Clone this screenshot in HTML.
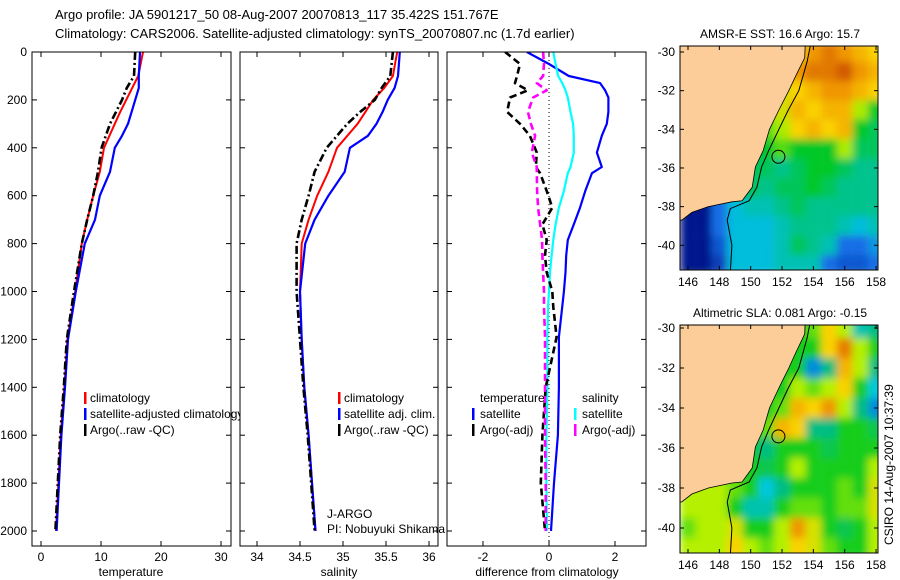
<!DOCTYPE html>
<html><head><meta charset="utf-8"><style>
html,body{margin:0;padding:0;background:#fff}
svg{display:block;font-family:"Liberation Sans",Arial,sans-serif;font-size:12px}
</style></head><body>
<svg id="fig" width="900" height="580" viewBox="0 0 900 580">
<defs>
<clipPath id="cp1"><rect x="32" y="52" width="199" height="494"/></clipPath>
<clipPath id="cp2"><rect x="240" y="52" width="198" height="494"/></clipPath>
<clipPath id="cp3"><rect x="447" y="52" width="199" height="494"/></clipPath>
<clipPath id="cm1"><rect x="680" y="46" width="198" height="224"/></clipPath>
<clipPath id="cm2"><rect x="680" y="325" width="198" height="228"/></clipPath>
<filter id="blur" x="-5%" y="-5%" width="110%" height="110%"><feGaussianBlur stdDeviation="4" edgeMode="duplicate"/></filter>
</defs>
<text x="55" y="19" font-size="13">Argo profile: JA 5901217_50 08-Aug-2007 20070813_117 35.422S 151.767E</text>
<text x="55" y="38" font-size="13">Climatology: CARS2006. Satellite-adjusted climatology: synTS_20070807.nc (1.7d earlier)</text>
<g id="g"></g>
</svg>
<script>
// ---------- data ----------
const depths = [0,100,150,200,250,300,350,400,500,600,700,800,1000,1200,1400,1600,1800,2000];
const tempClim = [17,16.2,15.2,14.2,13.2,12.3,11.4,10.5,9.8,8.7,7.7,6.8,5.7,4.4,3.9,3.3,2.9,2.5];
const tempSat  = [16.5,16.3,16.3,15.7,15.1,14.5,13.5,12.3,11.5,9.8,9,7.3,5.8,4.5,4,3.4,3,2.6];
const tempArgo = [15.7,15.5,14.3,13.5,12.5,11.5,10.8,10.1,9.5,8.7,7.7,6.8,5.5,4.3,3.8,3.2,2.8,2.4];
const salClim = [35.63,35.58,35.48,35.35,35.26,35.17,35.05,34.93,34.83,34.7,34.6,34.52,34.5,34.52,34.55,34.6,34.64,34.68];
const salSat  = [35.66,35.64,35.6,35.52,35.46,35.39,35.29,35.08,35.02,34.83,34.67,34.56,34.5,34.52,34.55,34.6,34.64,34.68];
const salArgo = [35.58,35.55,35.45,35.37,35.2,35.05,34.93,34.81,34.67,34.6,34.52,34.46,34.46,34.5,34.54,34.59,34.63,34.67];
const dDepths = [0,50,100,130,160,190,250,300,350,420,480,506,580,650,720,785,850,920,1000,1065,1190,1400,1600,1800,2000];
const dTempSat = [-0.67,0,0.6,1.55,1.7,1.8,1.8,1.75,1.6,1.45,1.6,1.3,1.1,0.94,0.75,0.57,0.52,0.5,0.45,0.4,0.3,0.3,0.27,0.15,0.06];
const dSalSat  = [0.13,0.2,0.28,0.4,0.5,0.57,0.65,0.73,0.75,0.75,0.65,0.57,0.45,0.3,0.2,0.13,0.08,0.03,0,-0.03,-0.05,-0.05,-0.08,-0.08,-0.06];
const dTempArgo = [-1.33,-0.88,-0.97,-1.03,-0.64,-1.18,-1.27,-0.88,-0.58,-0.37,-0.4,-0.27,-0.07,0.1,-0.2,-0.07,-0.12,-0.07,0.1,0.13,0.23,-0.1,-0.2,-0.25,-0.12];
const dSalArgo  = [-0.18,-0.15,-0.18,-0.37,-0.07,-0.48,-0.64,-0.55,-0.42,-0.52,-0.37,-0.37,-0.36,-0.33,-0.27,-0.21,-0.2,-0.18,-0.15,-0.15,-0.12,-0.12,-0.12,-0.1,-0.1];
const depthTicks = [0,200,400,600,800,1000,1200,1400,1600,1800,2000];
const tempTicks = [0,10,20,30];
const salTicks = [34,34.5,35,35.5,36];
const diffTicks = [-2,0,2];
const lonTicks = [146,148,150,152,154,156,158];
const latTicks = [-30,-32,-34,-36,-38,-40];
const gridLons = [146,147,148,149,150,151,152,153,154,155,156,157,158];
const gridLats = [-30,-31,-32,-33,-34,-35,-36,-37,-38,-39,-40,-41];
const sstGrid = [
[5,5,5,5,5,5,5,8,9,9.5,9,8.5,8],
[5,5,5,5,5,5,7.5,9,9.5,9.5,10,9,8.5],
[5,5,5,5,5,5,7.5,8,8.5,9,9,8.5,8],
[5,5,5,5,5,7,7.5,8.5,8,8.5,8.5,7,6],
[5,5,5,5,6,6.5,7,8,8.5,8,8.5,6,5.5],
[5,5,5,5,5.5,6,6.5,6,6,6,7,5.5,5.5],
[5,5,5,5,5.5,5.5,5,5.5,6,6,5.5,5,5],
[5,5,5,5,5.5,5,5.5,5.5,6,5.5,5,5,5],
[1,1,3,4,4.5,4.5,5,5.5,5,5,5,5,5],
[1,1,3,4,4,4,4.5,5,5,5,4.5,4,4.5],
[1,1,2.5,4,4,4,4.5,5.5,5,4.5,3,3,3.5],
[1,1,2,4,4,4,4.5,4.5,4.5,3,2.5,2.5,3]];
const slaGrid = [
[3,3,3,3,3,3,3,3,3.5,5,4,1.5,2],
[3,3,3,3,3,3,3,3,3,5,6.5,4,3],
[3,3,3,3,3,3,3,3,0.5,2,5.5,4,2],
[3,3,3,3,3,3,3,4,3.5,4,5,3,1],
[3,3,3,3,3,3,3.5,5.5,5,6,4,2,0.5],
[3,3,3,3,3,3.5,5.5,5,2,2,3,3,2.5],
[3,3,3,3,3,2,3,3,3,2.5,3,3,3],
[3,3,3,3,3,2.5,3,4,3,3,3,3,4],
[4,4,4,3.5,3,1,2,3,3,3,3.5,3,4.5],
[4,4,4,3,1.5,1.5,3,3.5,3.5,3,3.5,3.5,4.5],
[3.5,4,4,4.5,3,3,4,6,4.5,3,2.5,3,4],
[4,4,4,5,4,3.5,4,5,4.5,3.5,3,3,4]];
const sstStops = [[0,[0,20,120]],[1,[0,20,140]],[3,[20,110,230]],[4,[0,190,220]],[5,[0,195,140]],[6,[0,200,40]],[7,[170,235,0]],[8,[250,210,0]],[9,[240,150,0]],[10,[210,90,0]]];
const slaStops = [[0,[0,80,220]],[1,[0,200,220]],[2,[0,190,130]],[3,[20,205,30]],[4,[180,240,0]],[5,[250,210,0]],[6,[240,150,0]],[7,[220,100,0]]];
const coast = [[145.3,-29.3],[153.5,-29.3],[153.45,-30.3],[152.9,-31.2],[152.43,-32],[151.8,-33],[151.2,-34],[150.8,-35.1],[150.3,-35.95],[150.1,-37],[149.45,-37.7],[148.8,-37.75],[147.3,-38],[146.25,-38.3],[145.6,-38.7],[145.3,-38.7]];
const isobath = [[153.9,-29.3],[153.6,-30.5],[153.07,-32],[152.4,-33],[151.8,-34],[151.15,-35.1],[150.7,-35.95],[150.4,-37],[149.9,-37.7],[148.7,-38.1],[148.5,-38.7],[148.8,-40],[148.7,-41.4]];
const floatPos = [151.77,-35.42];

// ---------- helpers ----------
const NS="http://www.w3.org/2000/svg";
const G=document.getElementById('g');
function mk(tag,attrs,parent){const e=document.createElementNS(NS,tag);for(const k in attrs)e.setAttribute(k,attrs[k]);(parent||G).appendChild(e);return e;}
const yD = d => 52 + d*0.2395;
const xT = v => 41 + v*6;
const xS = v => 257 + (v-34)*86;
const xDf = v => 549 + v*33;

function panel(x0,w,clip,name){
  const r=mk('rect',{x:x0,y:52,width:w,height:494,fill:'#fff',stroke:'none'});
  
  
  const g=mk('g',{'clip-path':'url(#'+clip+')'});
  
  
  return g;
}
function frame(x0,w,name){
  const r=mk('rect',{x:x0,y:52,width:w,height:494,fill:'none',stroke:'#000','stroke-width':1});
  
  
  depthTicks.forEach(d=>{const y=yD(d);
    mk('line',{x1:x0,x2:x0+5,y1:y,y2:y,stroke:'#000'});
    mk('line',{x1:x0+w-5,x2:x0+w,y1:y,y2:y,stroke:'#000'});});
}
function xticks(ticks,fx,name){
  ticks.forEach(t=>{const x=fx(t);
    mk('line',{x1:x,x2:x,y1:52,y2:57,stroke:'#000'});
    mk('line',{x1:x,x2:x,y1:541,y2:546,stroke:'#000'});
    const tx=mk('text',{x:x,y:561,'text-anchor':'middle'});tx.textContent=String(t);
    
    });
}
function line(g,xs,ds,fx,color,w,dash,name){
  const pts=xs.map((v,i)=>fx(v).toFixed(1)+','+yD(ds[i]).toFixed(1)).join(' ');
  const p=mk('polyline',{points:pts,fill:'none',stroke:color,'stroke-width':w,'stroke-linejoin':'round'},g);
  if(dash)p.setAttribute('stroke-dasharray',dash);
  
  
}
function txt(x,y,s,name,extra){const t=mk('text',Object.assign({x:x,y:y},extra||{}));t.textContent=s;
  
  return t;}
function legBar(x,y,color,name){const r=mk('rect',{x:x,y:y-10,width:2.5,height:12,fill:color});
  
  }

// ---------- panel 1 temperature ----------
let g1=panel(32,199,'cp1','temperature-panel');
line(g1,tempClim,depths,xT,'#f00',2,null,'temp-climatology-line');
line(g1,tempSat,depths,xT,'#00f',2.2,null,'temp-satellite-line');
line(g1,tempArgo,depths,xT,'#000',2.6,'8,3,2,3','temp-argo-line');
legBar(84,402,'#f00','legend-climatology-swatch');txt(90,402,'climatology','legend-climatology');
legBar(84,418,'#00f','legend-satellite-swatch');txt(90,418,'satellite-adjusted climatology','legend-satellite-adjusted');
legBar(84,434,'#000','legend-argo-swatch');txt(90,434,'Argo(..raw -QC)','legend-argo');
// ---------- panel 2 salinity ----------
let g2=panel(240,198,'cp2','salinity-panel');
line(g2,salClim,depths,xS,'#f00',2,null,'sal-climatology-line');
line(g2,salSat,depths,xS,'#00f',2.2,null,'sal-satellite-line');
line(g2,salArgo,depths,xS,'#000',2.6,'8,3,2,3','sal-argo-line');
legBar(338,402,'#f00','legend2-climatology-swatch');txt(344,402,'climatology','legend2-climatology');
legBar(338,418,'#00f','legend2-satellite-swatch');txt(344,418,'satellite adj. clim.','legend2-satellite');
legBar(338,434,'#000','legend2-argo-swatch');txt(344,434,'Argo(..raw -QC)','legend2-argo');
txt(327,518,'J-ARGO','program-label');
txt(327,533,'PI: Nobuyuki Shikama','pi-label');
// ---------- panel 3 differences ----------
let g3=panel(447,199,'cp3','difference-panel');
const zl=mk('line',{x1:xDf(0),x2:xDf(0),y1:52,y2:546,stroke:'#000','stroke-dasharray':'1,3'},g3);


line(g3,dTempSat,dDepths,xDf,'#00f',2.2,null,'diff-temp-satellite-line');
line(g3,dSalSat,dDepths,xDf,'#0ff',2.2,null,'diff-sal-satellite-line');
line(g3,dTempArgo,dDepths,xDf,'#000',2.6,'7,4','diff-temp-argo-line');
line(g3,dSalArgo,dDepths,xDf,'#f0f',2.6,'7,4','diff-sal-argo-line');
txt(480,402,'temperature','legend3-temperature-header');
txt(582,402,'salinity','legend3-salinity-header');
legBar(472,418,'#00f','legend3-temp-sat-swatch');txt(480,418,'satellite','legend3-temp-satellite');
legBar(472,434,'#000','legend3-temp-argo-swatch');txt(480,434,'Argo(-adj)','legend3-temp-argo');
legBar(574,418,'#0ff','legend3-sal-sat-swatch');txt(582,418,'satellite','legend3-sal-satellite');
legBar(574,434,'#f0f','legend3-sal-argo-swatch');txt(582,434,'Argo(-adj)','legend3-sal-argo');

frame(32,199,'temperature-panel');frame(240,198,'salinity-panel');frame(447,199,'difference-panel');
xticks(tempTicks,xT,'temperature-x');xticks(salTicks,xS,'salinity-x');xticks(diffTicks,xDf,'difference-x');
depthTicks.forEach(d=>txt(27,yD(d)+4,String(d),'depth-tick-label',{'text-anchor':'end'}));
txt(131,576,'temperature','temperature-axis-title',{'text-anchor':'middle'});
txt(339,576,'salinity','salinity-axis-title',{'text-anchor':'middle'});
txt(547,576,'difference from climatology','difference-axis-title',{'text-anchor':'middle'});

// ---------- maps ----------
function colorOf(v,stops){
  for(let i=1;i<stops.length;i++){if(v<=stops[i][0]){const a=stops[i-1],b=stops[i];const t=(v-a[0])/(b[0]-a[0]);
    const c=a[1].map((x,k)=>Math.round(x+(b[1][k]-x)*t));return 'rgb('+c.join(',')+')';}}
  const c=stops[stops.length-1][1];return 'rgb('+c.join(',')+')';
}
function map(top,h,lat30y,pxLat,clip,grid,stops,name,title,labelY){
  const fx=lon=>688+(lon-146)*15.67;
  const fy=lat=>lat30y+(-30-lat)*pxLat;
  const outer=mk('g',{'clip-path':'url(#'+clip+')'});
  
  
  const gg=mk('g',{filter:'url(#blur)'},outer);
  gridLats.forEach((lat,i)=>gridLons.forEach((lon,j)=>{
    const r=mk('rect',{x:fx(lon-0.5),y:fy(lat+0.5),width:15.8,height:pxLat+0.2,fill:colorOf(grid[i][j],stops)},gg);
    
    
  }));
  const land=mk('polygon',{points:coast.map(p=>fx(p[0]).toFixed(1)+','+fy(p[1]).toFixed(1)).join(' '),fill:'#fccc99',stroke:'#000','stroke-width':0.8},outer);
  
  
  const iso=mk('polyline',{points:isobath.map(p=>fx(p[0]).toFixed(1)+','+fy(p[1]).toFixed(1)).join(' '),fill:'none',stroke:'#000','stroke-width':1},outer);
  
  
  const c=mk('circle',{cx:fx(floatPos[0]),cy:fy(floatPos[1]),r:6.5,fill:'none',stroke:'#000','stroke-width':1},outer);
  
  
  const fr=mk('rect',{x:680,y:top,width:198,height:h,fill:'none',stroke:'#000'});
  
  
  lonTicks.forEach(l=>{const x=fx(l);mk('line',{x1:x,x2:x,y1:top,y2:top+4,stroke:'#000'});mk('line',{x1:x,x2:x,y1:top+h-4,y2:top+h,stroke:'#000'});
    txt(x,labelY,String(l),name+'-lon-label',{'text-anchor':'middle'});});
  latTicks.forEach(l=>{const y=fy(l);mk('line',{x1:680,x2:684,y1:y,y2:y,stroke:'#000'});mk('line',{x1:874,x2:878,y1:y,y2:y,stroke:'#000'});
    txt(675,y+4,String(l),name+'-lat-label',{'text-anchor':'end'});});
  txt(780,top-8,title,name+'-title',{'text-anchor':'middle'});
}
map(46,224,52,19.33,'cm1',sstGrid,sstStops,'sst-map','AMSR-E SST: 16.6 Argo: 15.7',286);
map(325,228,328,20,'cm2',slaGrid,slaStops,'sla-map','Altimetric SLA: 0.081 Argo: -0.15',569);
txt(0,0,'CSIRO 14-Aug-2007 10:37:39','timestamp-label',{transform:'translate(893,545) rotate(-90)'});
</script>
</body></html>
